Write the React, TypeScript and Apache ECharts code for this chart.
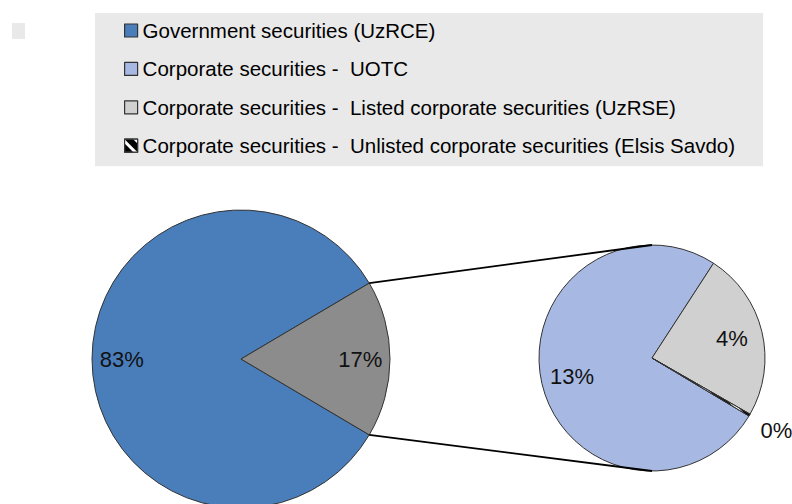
import React, { useEffect, useRef } from "react";
import * as echarts from "echarts";

// ---- data ----
const mainCategories = ["Government securities (UzRCE)", "Corporate securities"];
const governmentShare = 83;
const secondaryCategories = [
  "Corporate securities -  UOTC",
  "Corporate securities -  Listed corporate securities (UzRSE)",
  "Corporate securities -  Unlisted corporate securities (Elsis Savdo)",
];
const secondaryValues = [12.85, 4.1, 0.05];
const legendNames = [mainCategories[0], ...secondaryCategories];

// ---- style ----
const mainColors = ["#4a7ebb", "#8c8c8c"];
const secondaryColors = ["#a7b9e2", "#d0d0d0", "#000000"];
const FONT = "'Liberation Sans', Arial, sans-serif";
const BIG_C = [241, 359];
const BIG_R = 149;
const SMALL_C = [652, 358];
const SMALL_R = 113;
const SECONDARY_SPLIT_ANGLE = 57; // where the second slice starts (deg)

const fmt = (p: any) => Math.round(p.value) + "%";

export default function App() {
  const ref = useRef<HTMLDivElement>(null);
  useEffect(() => {
    if (!ref.current) return;
    const chart = echarts.init(ref.current, undefined, { renderer: "svg" });
    const corpTotal = secondaryValues.reduce((a, b) => a + b, 0);
    const total = governmentShare + corpTotal;
    const corpHalf = (corpTotal / total) * Math.PI; // half-angle in radians
    const bigStart = 360 - (corpTotal / total) * 180;
    const smallStart = SECONDARY_SPLIT_ANGLE + (secondaryValues[0] / corpTotal) * 360;

    const mainValues = [governmentShare, corpTotal];
    const bigData = mainCategories.map((n, i) => ({
      name: n,
      value: mainValues[i],
      itemStyle: { color: mainColors[i] },
    }));
    const smallData = secondaryCategories.map((n, i) => ({
      name: n,
      value: secondaryValues[i],
      itemStyle:
        i === 2
          ? {
              color: secondaryColors[i],
              decal: {
                symbol: "rect",
                color: "#ffffff",
                dashArrayX: [1, 0],
                dashArrayY: [3, 6],
                rotation: Math.PI / 4,
              },
            }
          : { color: secondaryColors[i] },
    }));
    const transparent = (arr: any[], showIdx: (i: number) => boolean) =>
      arr.map((d, i) => ({
        name: d.name,
        value: d.value,
        itemStyle: { color: "transparent", borderWidth: 0 },
        label: { show: showIdx(i) },
      }));

    const labelStyle = {
      position: "inside",
      formatter: fmt,
      color: "#111",
      fontSize: 22,
      fontFamily: FONT,
    };
    const common = {
      type: "pie",
      silent: true,
      clockwise: true,
      avoidLabelOverlap: false,
      emphasis: { disabled: true },
      labelLine: { show: false },
    };

    const bx = BIG_C[0] + BIG_R * Math.cos(corpHalf);
    const byTop = BIG_C[1] - BIG_R * Math.sin(corpHalf);
    const byBot = BIG_C[1] + BIG_R * Math.sin(corpHalf);

    chart.setOption({
      animation: false,
      backgroundColor: "#ffffff",
      legend: {
        orient: "vertical",
        left: 95,
        top: 13,
        backgroundColor: "#e9e9e9",
        padding: [7, 28, 10, 29],
        itemGap: 17.4,
        itemWidth: 13,
        itemHeight: 13,
        icon: "rect",
        selectedMode: false,
        data: legendNames,
        itemStyle: { borderColor: "#333333", borderWidth: 1.2 },
        textStyle: { fontSize: 20.5, fontFamily: FONT, color: "#000" },
      },
      graphic: [
        {
          type: "rect",
          shape: { x: 12, y: 23, width: 13, height: 16 },
          style: { fill: "#e9e9e9" },
        },
        {
          type: "line",
          shape: { x1: bx, y1: byTop, x2: SMALL_C[0], y2: SMALL_C[1] - SMALL_R },
          style: { stroke: "#000", lineWidth: 1.8 },
          z: 10,
        },
        {
          type: "line",
          shape: { x1: bx, y1: byBot, x2: SMALL_C[0], y2: SMALL_C[1] + SMALL_R },
          style: { stroke: "#000", lineWidth: 1.8 },
          z: 10,
        },
      ],
      series: [
        {
          ...common,
          name: "main",
          center: BIG_C,
          radius: BIG_R,
          startAngle: bigStart,
          label: { show: false },
          itemStyle: { borderColor: "#333", borderWidth: 1 },
          data: bigData,
        },
        {
          ...common,
          name: "secondary",
          center: SMALL_C,
          radius: SMALL_R,
          startAngle: smallStart,
          label: { show: false },
          itemStyle: { borderColor: "#333", borderWidth: 1 },
          data: smallData,
        },
        {
          ...common,
          name: "mainLabels",
          center: BIG_C,
          radius: [BIG_R * 0.56, BIG_R],
          startAngle: bigStart,
          label: labelStyle,
          data: transparent(bigData, () => true),
        },
        {
          ...common,
          name: "secondaryLabels",
          center: SMALL_C,
          radius: [SMALL_R * 0.4, SMALL_R],
          startAngle: smallStart,
          label: labelStyle,
          data: transparent(smallData, (i) => i < 2),
        },
        {
          ...common,
          name: "secondaryOuterLabels",
          center: SMALL_C,
          radius: [SMALL_R, SMALL_R * 1.5],
          startAngle: smallStart,
          label: labelStyle,
          data: transparent(smallData, (i) => i === 2),
        },
      ],
    });
    return () => chart.dispose();
  }, []);
  return (
    <div
      ref={ref}
      style={{ position: "fixed", left: 0, top: 0, width: 792, height: 504 }}
    />
  );
}
